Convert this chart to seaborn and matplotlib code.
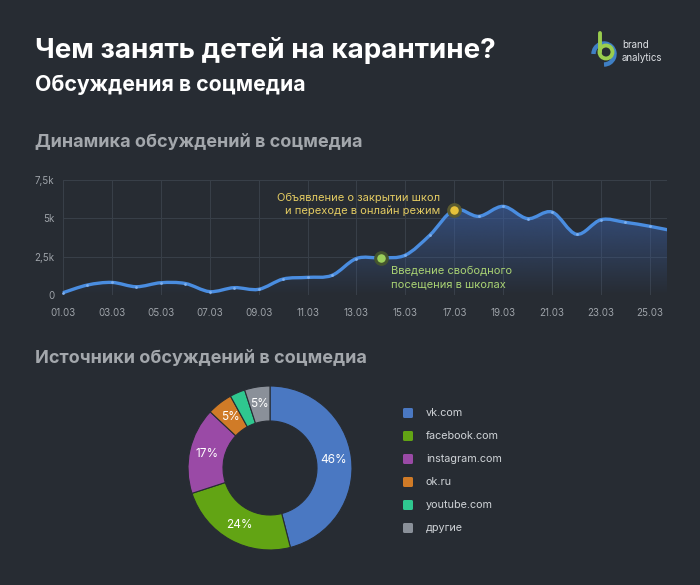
import numpy as np
import pandas as pd
import matplotlib
matplotlib.use("Agg")
import matplotlib.pyplot as plt
import seaborn as sns
from matplotlib.patches import Circle, Arc, FancyBboxPatch, PathPatch, Rectangle
from matplotlib.path import Path

# ---------------- data ----------------
days = list(range(1, 27))
day_labels = ["01.03", "03.03", "05.03", "07.03", "09.03", "11.03", "13.03",
              "15.03", "17.03", "19.03", "21.03", "23.03", "25.03"]
mentions = [150, 650, 820, 540, 800, 750, 220, 480, 370, 1040, 1150, 1280, 2380,
            2420, 2600, 3900, 5560, 5130, 5780, 4980, 5410, 3960, 4910, 4740,
            4480, 4160]
y_ticks = [0, 2500, 5000, 7500]
y_tick_labels = ["0", "2,5k", "5k", "7,5k"]

sources = ["vk.com", "facebook.com", "instagram.com", "ok.ru", "youtube.com", "другие"]
shares = [46, 24, 17, 5, 3, 5]
share_labels = ["46%", "24%", "17%", "5%", "", "5%"]

# ---------------- style ----------------
BG = "#272c33"
GRID = "#394049"
TICK = "#9da2a8"
LINE = "#4a8de0"
YELLOW = "#e6c13a"
GREEN = "#9bcf5c"
SRC_COLORS = ["#4a78c2", "#62a414", "#9a4aa6", "#d07b27", "#2fc78f", "#8a9099"]

sns.set_theme(style="dark")
plt.rcParams.update({
    "figure.facecolor": BG,
    "axes.facecolor": BG,
    "savefig.facecolor": BG,
    "axes.edgecolor": BG,
    "text.color": "white",
})
plt.rcParams["font.family"] = ["Inter", "DejaVu Sans"]

W, H = 700, 585
fig = plt.figure(figsize=(W / 100, H / 100), dpi=100)


def fx(x):
    return x / W


def fy(y):
    return 1 - y / H


def smooth_path(xs, ys):
    # catmull-rom curve through the points, as cubic bezier segments
    p = np.column_stack([xs, ys]).astype(float)
    ext = np.vstack([p[0], p, p[-1]])
    verts = [tuple(p[0])]
    codes = [Path.MOVETO]
    for i in range(len(p) - 1):
        p0, p1, p2, p3 = ext[i], ext[i + 1], ext[i + 2], ext[i + 3]
        c1 = p1 + (p2 - p0) / 6
        c2 = p2 - (p3 - p1) / 6
        verts += [tuple(c1), tuple(c2), tuple(p2)]
        codes += [Path.CURVE4] * 3
    return verts, codes


# ---------------- titles ----------------
fig.text(fx(35), fy(50), "Чем занять детей на карантине?", fontsize=20,
         fontweight="bold", color="white", va="center")
fig.text(fx(35), fy(85), "Обсуждения в соцмедиа", fontsize=15.3,
         fontweight="bold", color="white", va="center")
fig.text(fx(35), fy(143), "Динамика обсуждений в соцмедиа", fontsize=13,
         fontweight="bold", color="#a3a7ac", va="center")
fig.text(fx(35), fy(359), "Источники обсуждений в соцмедиа", fontsize=13,
         fontweight="bold", color="#a3a7ac", va="center")

# logo
fig.text(fx(622), fy(45), "brand", fontsize=7, color="#dfe2e6", va="center")
fig.text(fx(622), fy(58), "analytics", fontsize=7, color="#dfe2e6", va="center")
lax = fig.add_axes([0, 0, 1, 1], facecolor="none")
lax.set_xlim(0, W)
lax.set_ylim(H, 0)
lax.axis("off")
lax.add_patch(Arc((604, 54), 21, 21, theta1=180, theta2=450, lw=3.2,
                  color="#3f7fc4"))
lax.add_patch(Circle((606, 52), 6.5, fill=False, lw=2.8, color="#9acd4e"))
lax.plot([599.5, 599.5], [33, 52], color="#9acd4e", lw=2.8,
         solid_capstyle="round")

# ---------------- line chart ----------------
df = pd.DataFrame({"day": days, "mentions": mentions})
ax = fig.add_axes([fx(63), fy(295), fx(667) - fx(63), (295 - 180) / H])
ax.set_xlim(1, 25.7)
ax.set_ylim(0, 7500)

verts, codes = smooth_path(df["day"], df["mentions"])
curve = Path(verts, codes)
area = Path(verts + [(days[-1], 0), (days[0], 0), verts[0]],
            codes + [Path.LINETO, Path.LINETO, Path.CLOSEPOLY])

# gradient area under the line
grad = np.zeros((256, 2, 4))
grad[..., :3] = matplotlib.colors.to_rgb("#3d62a8")
grad[..., 3] = np.linspace(0.8, 0.0, 256)[:, None]
im = ax.imshow(grad, extent=[1, 26, 0, 7500], aspect="auto", origin="upper",
               zorder=1)
area_patch = PathPatch(area, facecolor="none", edgecolor="none",
                       transform=ax.transData)
ax.add_patch(area_patch)
im.set_clip_path(area_patch)

# clip the line on the right edge only (keep full width near the bottom)
clip_box = Rectangle((-0.05, -0.2), 1.05, 1.4, transform=ax.transAxes,
                     facecolor="none", edgecolor="none")
ax.add_patch(clip_box)
line = PathPatch(curve, facecolor="none", edgecolor=LINE, lw=2.4,
                 capstyle="butt", zorder=3)
ax.add_patch(line)
line.set_clip_path(clip_box)
dots = sns.scatterplot(data=df[df["day"] <= 25], x="day", y="mentions", ax=ax,
                       s=4, color="#7fb0ee", zorder=4, lw=0, clip_on=False)

ax.set_xticks(list(range(1, 26, 2)))
ax.set_xticklabels(day_labels)
ax.set_yticks(y_ticks)
ax.set_yticklabels(y_tick_labels)
ax.tick_params(axis="both", colors=TICK, labelsize=7, length=0)
ax.tick_params(axis="x", pad=9)
ax.tick_params(axis="y", pad=6)
ax.grid(True, color=GRID, lw=0.7)
ax.set_axisbelow(True)
ax.set_xlabel("")
ax.set_ylabel("")
for s in ax.spines.values():
    s.set_visible(False)

# events
d17 = df[df["day"] == 17]["mentions"].iloc[0]
d14 = df[df["day"] == 14]["mentions"].iloc[0]
ax.scatter([17], [d17], s=70, color=YELLOW, edgecolor="#5a5a30", lw=2.2, zorder=5)
ax.scatter([14], [d14], s=70, color=GREEN, edgecolor="#44552e", lw=2.2, zorder=5)
ax.annotate("Объявление о закрытии школ\nи переходе в онлайн режим",
            xy=(17, d17), xytext=(-10, 4), textcoords="offset points",
            ha="right", va="center", fontsize=8, color="#e3cb62",
            linespacing=1.3)
ax.annotate("Введение свободного\nпосещения в школах",
            xy=(14, d14), xytext=(7, -6), textcoords="offset points",
            ha="left", va="top", fontsize=8, color="#a9d273",
            linespacing=1.3)

# ---------------- donut ----------------
R = 85
pax = fig.add_axes([fx(270 - R), fy(468 + R), 2 * R / W, 2 * R / H])
wedges, texts = pax.pie(shares, colors=SRC_COLORS, startangle=90,
                        counterclock=False, radius=82 / R,
                        wedgeprops=dict(width=35 / R, edgecolor=BG, lw=0.8))
pax.set_xlim(-1, 1)
pax.set_ylim(-1, 1)
pax.set_aspect("equal")
for w, lab in zip(wedges, share_labels):
    ang = np.deg2rad((w.theta1 + w.theta2) / 2)
    r = 64.5 / R
    pax.text(r * np.cos(ang), r * np.sin(ang), lab, ha="center", va="center",
             fontsize=8.5, color="white")

# legend
for i, (name, col) in enumerate(zip(sources, SRC_COLORS)):
    y = 413 + i * 23
    lax.add_patch(FancyBboxPatch((403, y - 5), 10, 10,
                                 boxstyle="round,pad=0,rounding_size=1.5",
                                 color=col, lw=0))
    lax.text(426, y, name, fontsize=7.8, color="#cfd3d7", va="center")

fig.savefig("out.png", dpi=100)
